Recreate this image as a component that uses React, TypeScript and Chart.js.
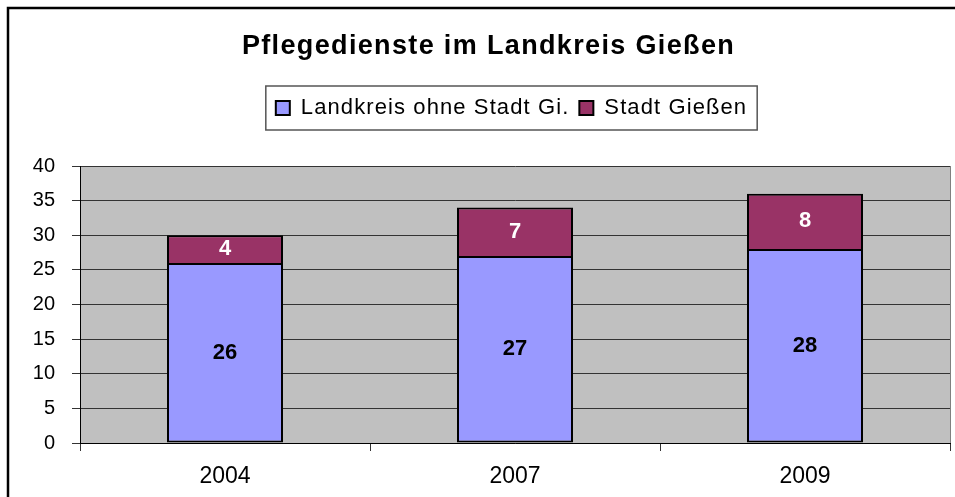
import React, { useEffect, useRef } from 'react';
import { Chart, registerables } from 'chart.js';

Chart.register(...registerables);

const titleText = 'Pflegedienste im Landkreis Gießen';
const categories = ['2004', '2007', '2009'];
const seriesNames = ['Landkreis ohne Stadt Gi.', 'Stadt Gießen'];
const landkreisValues = [26, 27, 28];
const stadtValues = [4, 7, 8];
const yMin = 0;
const yMax = 40;
const yStep = 5;

const FONT = '"Liberation Sans", Arial, sans-serif';
const LEGEND_SHIFT = 23;

function patchSpacing(obj: any, spacing: string, dx: number) {
  if (!obj || obj.__patched) return;
  const origFit = obj.fit;
  const origDraw = obj.draw;
  if (typeof origFit === 'function') {
    obj.fit = function (...args: any[]) {
      const c = this.ctx;
      const prev = c.letterSpacing;
      c.letterSpacing = spacing;
      try {
        return origFit.apply(this, args);
      } finally {
        c.letterSpacing = prev;
      }
    };
  }
  obj.draw = function (...args: any[]) {
    const c = this.ctx;
    c.save();
    c.letterSpacing = spacing;
    c.translate(dx, 0);
    try {
      return origDraw.apply(this, args);
    } finally {
      c.restore();
    }
  };
  obj.__patched = true;
}

const spacingPlugin = {
  id: 'spacingPlugin',
  beforeUpdate(chart: any) {
    patchSpacing(chart.legend, '1.1px', LEGEND_SHIFT);
    patchSpacing(chart.titleBlock, '1.35px', 0);
  },
  beforeLayout(chart: any) {
    patchSpacing(chart.legend, '1.1px', LEGEND_SHIFT);
    patchSpacing(chart.titleBlock, '1.35px', 0);
  },
};

const plotBgPlugin = {
  id: 'plotBg',
  beforeDraw(chart: any) {
    const { ctx, chartArea } = chart;
    if (!chartArea) return;
    ctx.save();
    ctx.fillStyle = '#C0C0C0';
    ctx.fillRect(chartArea.left, chartArea.top, chartArea.right - chartArea.left, chartArea.bottom - chartArea.top);
    ctx.strokeStyle = '#808080';
    ctx.lineWidth = 1;
    ctx.beginPath();
    ctx.moveTo(chartArea.right + 0.5, chartArea.top);
    ctx.lineTo(chartArea.right + 0.5, chartArea.bottom);
    ctx.stroke();
    ctx.restore();
  },
};

const legendBoxPlugin = {
  id: 'legendBox',
  afterDraw(chart: any) {
    const lg = chart.legend;
    if (!lg || !lg.legendHitBoxes || !lg.legendHitBoxes.length) return;
    const boxes = lg.legendHitBoxes;
    let minL = Infinity;
    let maxR = -Infinity;
    boxes.forEach((b: any) => {
      minL = Math.min(minL, b.left);
      maxR = Math.max(maxR, b.left + b.width);
    });
    const ctx = chart.ctx;
    ctx.save();
    ctx.strokeStyle = '#555555';
    ctx.lineWidth = 1.5;
    ctx.strokeRect(minL + LEGEND_SHIFT - 10, lg.top - 1, maxR - minL + 20, 44);
    ctx.restore();
  },
};

const dataLabelPlugin = {
  id: 'dataLabels',
  afterDatasetsDraw(chart: any) {
    const ctx = chart.ctx;
    chart.data.datasets.forEach((ds: any, di: number) => {
      const meta = chart.getDatasetMeta(di);
      meta.data.forEach((el: any, i: number) => {
        const p = el.getProps(['x', 'y', 'base'], true);
        ctx.save();
        ctx.font = `bold 22px ${FONT}`;
        ctx.fillStyle = di === 0 ? '#000000' : '#FFFFFF';
        ctx.textAlign = 'center';
        ctx.textBaseline = 'middle';
        ctx.fillText(String(ds.data[i]), p.x, (p.y + p.base) / 2);
        ctx.restore();
      });
    });
  },
};

const outerBorderPlugin = {
  id: 'outerBorder',
  afterDraw(chart: any) {
    const ctx = chart.ctx;
    ctx.save();
    ctx.strokeStyle = '#000000';
    ctx.lineWidth = 2.5;
    ctx.strokeRect(8, 8, chart.width + 20, chart.height + 20);
    ctx.restore();
  },
};

export default function App() {
  const ref = useRef<HTMLCanvasElement>(null);

  useEffect(() => {
    if (!ref.current) return;
    Chart.defaults.font.family = FONT;
    const chart = new Chart(ref.current, {
      type: 'bar',
      data: {
        labels: categories,
        datasets: [
          {
            label: seriesNames[0],
            data: landkreisValues,
            backgroundColor: '#9999FF',
            borderColor: '#000000',
            borderWidth: 2,
            borderSkipped: false,
            barPercentage: 0.4,
            categoryPercentage: 1,
          },
          {
            label: seriesNames[1],
            data: stadtValues,
            backgroundColor: '#993366',
            borderColor: '#000000',
            borderWidth: 2,
            borderSkipped: 'start',
            barPercentage: 0.4,
            categoryPercentage: 1,
          },
        ],
      },
      options: {
        responsive: false,
        animation: false,
        layout: { padding: { top: 0, left: 27, right: 5, bottom: 0 } },
        plugins: {
          title: {
            display: true,
            text: titleText,
            color: '#000000',
            font: { size: 27, weight: 'bold', family: FONT, lineHeight: 1.2 },
            padding: { top: 30, bottom: 24.6 },
          },
          subtitle: {
            display: true,
            text: '',
            weight: 500,
            padding: { top: 29, bottom: 0 },
            font: { size: 8, lineHeight: 1 },
          } as any,
          legend: {
            display: true,
            position: 'top',
            labels: {
              boxWidth: 14,
              boxHeight: 14,
              padding: 10,
              color: '#000000',
              font: { size: 22, family: FONT },
            },
          },
          tooltip: { enabled: false },
        },
        scales: {
          x: {
            stacked: true,
            grid: { drawOnChartArea: false, drawTicks: true, tickLength: 8, color: '#333333', offset: true },
            border: { color: '#000000', width: 1 },
            ticks: { color: '#000000', font: { size: 23, family: FONT }, padding: 12 },
            afterFit: (s: any) => {
              s.height = 54;
            },
          },
          y: {
            stacked: true,
            min: yMin,
            max: yMax,
            ticks: { stepSize: yStep, color: '#000000', font: { size: 20, family: FONT }, padding: 17 },
            grid: { color: '#333333', tickLength: 8 },
            border: { color: '#000000', width: 1 },
            afterFit: (s: any) => {
              s.width = 53;
            },
          },
        },
      } as any,
      plugins: [spacingPlugin, plotBgPlugin, legendBoxPlugin, dataLabelPlugin, outerBorderPlugin],
    });
    return () => chart.destroy();
  }, []);

  return (
    <div style={{ position: 'fixed', left: 0, top: 0, width: 955, height: 497, background: '#ffffff' }}>
      <canvas ref={ref} width={955} height={497} style={{ display: 'block' }} />
    </div>
  );
}
